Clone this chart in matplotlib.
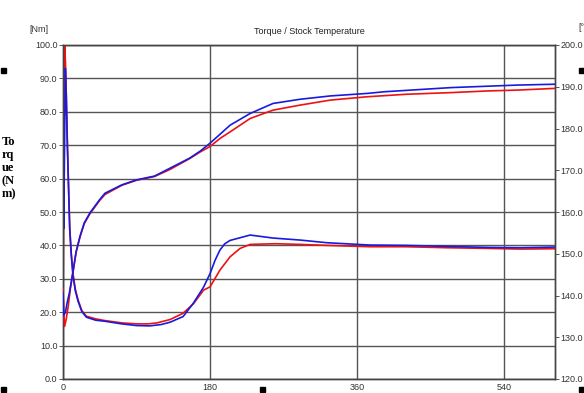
import matplotlib
matplotlib.use("Agg")
import matplotlib.pyplot as plt
from matplotlib.patches import Rectangle

# ---- data ----
# Torque [Nm] (left axis)
t_torque_red = [0, 1, 2, 3, 4, 5.3, 6.5, 8.2, 10, 12.2, 15, 18.4, 23, 28.6, 40, 51, 72, 90, 104,
                115, 131, 147, 159.5, 172, 180, 192, 204.5, 216.7, 229, 260, 290, 323, 376, 420,
                470, 520, 560, 601]
torque_red = [20, 60, 100, 95, 85, 71.6, 60, 45.6, 38, 31.6, 27, 23.7, 20.5, 18.8, 18, 17.5, 16.8,
              16.5, 16.5, 16.8, 17.8, 19.7, 22.5, 26.6, 27.6, 32.6, 36.6, 39.1, 40.3, 40.5, 40.3,
              40.0, 39.6, 39.6, 39.3, 39.1, 38.9, 39.0]

t_torque_blue = [0, 0.3, 0.8, 1.5, 2.9, 4, 5.3, 6.5, 8.2, 10, 12.2, 15, 18.4, 23, 28.6, 40, 51, 72,
                 90, 106, 120, 131, 147, 159.5, 172, 180, 186, 192, 198, 204.5, 229, 257, 290, 323,
                 376, 420, 470, 520, 560, 601]
torque_blue = [0, 57, 45, 60, 93, 85, 70, 60, 45, 37.5, 31, 26.5, 23.3, 20.2, 18.5, 17.6, 17.3,
               16.5, 16.0, 15.9, 16.3, 17.0, 18.7, 22.7, 27.5, 31.6, 35.5, 38.6, 40.5, 41.5, 43.1,
               42.2, 41.6, 40.8, 40.1, 40.0, 39.7, 39.4, 39.3, 39.5]

# Stock temperature [°C] (right axis)
t_temp_red = [0, 1, 2, 4, 6.5, 9, 12.6, 16, 20.8, 26, 33, 45, 51.4, 72, 90, 112, 131, 155, 168,
              180, 192, 204.5, 229, 257, 290, 327, 372, 420, 475, 520, 556, 601]
temp_red = [141.6, 136.0, 132.6, 134.4, 137.6, 141.6, 146.0, 150.4, 154.0, 157.2, 159.6, 162.8,
            164.2, 166.4, 167.6, 168.5, 170.2, 172.8, 174.4, 175.7, 177.6, 179.2, 182.4, 184.4,
            185.6, 186.8, 187.6, 188.2, 188.6, 189.0, 189.2, 189.6]

t_temp_blue = [0, 0.8, 3, 5, 8, 12.6, 16, 20.8, 26, 33, 45, 51.4, 72, 90, 112, 131, 155, 168, 180,
               192, 204.5, 229, 257, 290, 327, 372, 393, 475, 556, 601]
temp_blue = [140.8, 135.2, 136.0, 138.2, 140.8, 146.2, 150.4, 154.2, 157.4, 159.8, 163.0, 164.5,
             166.5, 167.7, 168.6, 170.5, 172.9, 174.6, 176.5, 178.6, 180.8, 183.6, 186.0, 187.0,
             187.8, 188.4, 188.8, 189.8, 190.4, 190.6]

x_ticks = [0, 180, 360, 540]
left_ticks = [0, 10, 20, 30, 40, 50, 60, 70, 80, 90, 100]
right_ticks = [120, 130, 140, 150, 160, 170, 180, 190, 200]

# ---- figure ----
W, H = 584, 393
fig = plt.figure(figsize=(W / 100, H / 100), dpi=100)
ax = fig.add_axes([63 / W, 1 - 379 / H, (555 - 63) / W, (379 - 45) / H])
ax2 = ax.twinx()

RED = "#ee1111"
BLUE = "#1a1adf"
GRID = "#555555"
TXT = "#333333"
FONT = "Liberation Sans"

ax.set_xlim(0, 602)
ax.set_ylim(0, 100)
ax2.set_ylim(120, 200)

ax.set_yticks(left_ticks)
ax.set_yticklabels([f"{v:.1f}" for v in left_ticks], fontsize=6.5, color=TXT, family=FONT)
ax.set_xticks(x_ticks)
ax.set_xticklabels([str(v) for v in x_ticks], fontsize=6.5, color=TXT, family=FONT)
ax2.set_yticks(right_ticks)
ax2.set_yticklabels([f"{v:.1f}" for v in right_ticks], fontsize=6.5, color=TXT, family=FONT)

ax.tick_params(axis="y", length=3, width=0.7, color=GRID, pad=1)
ax.tick_params(axis="x", length=0, pad=3)
ax2.tick_params(axis="y", length=3, width=0.7, color=GRID, pad=1)

ax.grid(True, color=GRID, linewidth=1.0)
for sp in list(ax.spines.values()) + list(ax2.spines.values()):
    sp.set_color("#444444")
    sp.set_linewidth(1.0)

ax.plot(t_torque_red, torque_red, color=RED, lw=1.2, zorder=3)
ax.plot(t_torque_blue, torque_blue, color=BLUE, lw=1.2, zorder=4)
ax2.plot(t_temp_red, temp_red, color=RED, lw=1.2, zorder=3)
ax2.plot(t_temp_blue, temp_blue, color=BLUE, lw=1.2, zorder=4)

# ---- texts ----
fig.text(309 / W, 1 - 32 / H, "Torque / Stock Temperature", ha="center", va="center",
         fontsize=6.5, color="#222222", family=FONT)
fig.text(29 / W, 1 - 30 / H, "[Nm]", ha="left", va="center", fontsize=6.5, color=TXT, family=FONT)
fig.text(578 / W, 1 - 28 / H, "[°", ha="left", va="center", fontsize=6.5, color=TXT, family=FONT)
fig.text(2 / W, 1 - 168 / H, "To\nrq\nue\n(N\nm)", ha="left", va="center", fontsize=9,
         fontweight="bold", family="Liberation Serif", linespacing=1.12, color="black")

# decorative black markers from the source document
for (px, py) in [(3, 70), (581, 70), (3, 389), (262, 389), (581, 389)]:
    fig.patches.append(Rectangle(((px - 2.5) / W, 1 - (py + 2.5) / H), 5 / W, 5 / H,
                                 transform=fig.transFigure, color="black"))

fig.savefig("out.png", dpi=100)
